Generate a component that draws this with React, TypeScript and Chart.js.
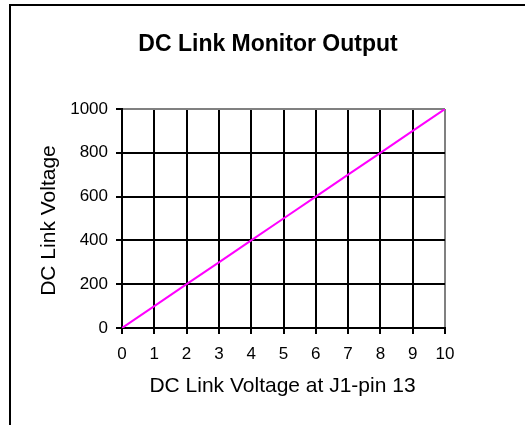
import React, { useEffect, useRef } from "react";
import { Chart, registerables } from "chart.js";

Chart.register(...registerables);

const chartTitle = "DC Link Monitor Output";
const xAxisTitle = "DC Link Voltage at J1-pin 13";
const yAxisTitle = "DC Link Voltage";

// Monitor output (V at J1-pin 13) vs. DC link voltage
const monitorVolts = [0, 1, 2, 3, 4, 5, 6, 7, 8, 9, 10];
const dcLinkVolts = [0, 100, 200, 300, 400, 500, 600, 700, 800, 900, 1000];

const xMin = 0;
const xMax = 10;
const xStep = 1;
const yMin = 0;
const yMax = 1000;
const yStep = 200;

const FONT = '"Liberation Sans", Arial, Helvetica, sans-serif';

const decorPlugin = {
  id: "decor",
  beforeDraw(chart: any) {
    const ctx = chart.ctx;
    ctx.save();
    ctx.fillStyle = "#ffffff";
    ctx.fillRect(0, 0, chart.width, chart.height);
    ctx.fillStyle = "#000000";
    ctx.fillRect(9, 4, chart.width - 9, 2);
    ctx.fillRect(9, 4, 2, chart.height - 4);
    ctx.restore();
  },
  afterDraw(chart: any) {
    const ctx = chart.ctx;
    const area = chart.chartArea;
    ctx.save();
    ctx.fillStyle = "#000000";
    ctx.textAlign = "center";
    ctx.textBaseline = "alphabetic";
    ctx.font = `bold 23px ${FONT}`;
    ctx.fillText(chartTitle, 268, 51);
    ctx.font = `21px ${FONT}`;
    ctx.fillText(xAxisTitle, 282.5, 392);
    ctx.translate(55, (area.top + area.bottom) / 2 + 2);
    ctx.rotate(-Math.PI / 2);
    ctx.fillText(yAxisTitle, 0, 0);
    ctx.restore();
  },
};

export default function App() {
  const canvasRef = useRef<HTMLCanvasElement | null>(null);

  useEffect(() => {
    if (!canvasRef.current) return;
    const chart = new Chart(canvasRef.current, {
      type: "line",
      data: {
        datasets: [
          {
            label: "DC Link",
            data: monitorVolts.map((x, i) => ({ x, y: dcLinkVolts[i] })),
            borderColor: "#FF00FF",
            backgroundColor: "#FF00FF",
            borderWidth: 2,
            pointRadius: 0,
            tension: 0,
            fill: false,
          },
        ],
      },
      options: {
        responsive: false,
        animation: false,
        devicePixelRatio: 1,
        layout: { padding: { left: 0, top: 109, right: 80, bottom: 0 } },
        plugins: {
          legend: { display: false },
          title: { display: false },
          tooltip: { enabled: false },
        },
        scales: {
          x: {
            type: "linear",
            min: xMin,
            max: xMax,
            afterFit: (s: any) => {
              s.height = 97;
            },
            ticks: {
              stepSize: xStep,
              color: "#000000",
              font: { family: FONT, size: 17 },
              padding: 10,
              maxRotation: 0,
              callback: (v: any) => String(v),
            },
            grid: {
              color: (c: any) => (c.tick && c.tick.value === xMax ? "#808080" : "#000000"),
              tickColor: "#000000",
              lineWidth: 2,
              tickLength: 6,
            },
            border: { display: true, color: "#000000", width: 2 },
          },
          y: {
            type: "linear",
            min: yMin,
            max: yMax,
            afterFit: (s: any) => {
              s.width = 122;
            },
            ticks: {
              stepSize: yStep,
              color: "#000000",
              font: { family: FONT, size: 17 },
              padding: 8,
              callback: (v: any) => String(v),
            },
            grid: {
              color: (c: any) => (c.tick && c.tick.value === yMax ? "#808080" : "#000000"),
              tickColor: "#000000",
              lineWidth: 2,
              tickLength: 6,
            },
            border: { display: true, color: "#000000", width: 2 },
          },
        },
      },
      plugins: [decorPlugin],
    });
    return () => chart.destroy();
  }, []);

  return (
    <div style={{ position: "fixed", left: 0, top: 0, width: 525, height: 425 }}>
      <canvas ref={canvasRef} width={525} height={425} style={{ display: "block" }} />
    </div>
  );
}
